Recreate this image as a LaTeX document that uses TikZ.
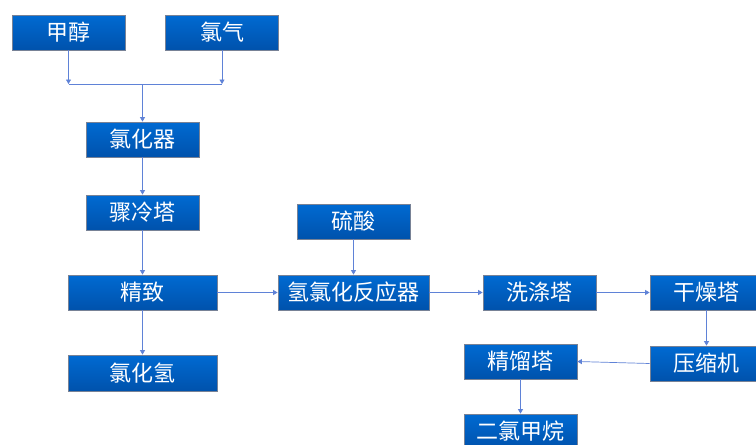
\documentclass[tikz,border=0pt]{standalone}
\usepackage{fontspec}
\newfontfamily\cjk{Noto Sans CJK SC}
\usetikzlibrary{arrows.meta}
\definecolor{boxtop}{RGB}{0,106,210}
\definecolor{boxbot}{RGB}{0,82,172}
\definecolor{boxedge}{RGB}{120,130,150}
\definecolor{conn}{RGB}{95,130,215}
\tikzset{
  box/.style={draw=boxedge, line width=0.8pt, top color=boxtop, bottom color=boxbot,
    minimum width=113pt, minimum height=35pt, inner sep=0pt, text=white,
    font=\cjk\fontsize{22}{24}\selectfont},
  conline/.style={draw=conn, line width=0.7pt},
  conarrow/.style={conline, -{Triangle[width=5pt,length=4.5pt]}}
}
\begin{document}
\begin{tikzpicture}[x=1pt,y=-1pt]
\useasboundingbox (0,0) rectangle (756,445);
\clip (0,0) rectangle (756,445);
\fill[white] (0,0) rectangle (756,445);
\node[box] (jc) at (68.5,32.5) {甲醇};
\node[box] (lq) at (222,32.5) {氯气};
\node[box] (lhq) at (142.5,139.5) {氯化器};
\node[box] (zlt) at (142.5,212.5) {骤冷塔};
\node[box, minimum width=149pt] (jz) at (142.5,292.5) {精致};
\node[box, minimum width=149pt, minimum height=36pt] (lhh) at (142.5,373) {氯化氢};
\node[box] (ls) at (353.5,221.5) {硫酸};
\node[box, minimum width=151pt] (fyq) at (353.5,292.5) {氢氯化反应器};
\node[box] (xdt) at (539.5,292.5) {洗涤塔};
\node[box] (gzt) at (706.5,292.5) {干燥塔};
\node[box] (ysj) at (706.5,363.5) {压缩机};
\node[box] (jlt) at (520.5,361.5) {精馏塔};
\node[box] (elj) at (520.5,431.5) {二氯甲烷};
\coordinate (j1) at (68.5,84);
\coordinate (j2) at (222,84);
\coordinate (jm) at (142.5,84);
\draw[conarrow] (jc.south) -- (j1);
\draw[conarrow] (lq.south) -- (j2);
\draw[conline] (j1) -- (j2);
\draw[conarrow] (jm) -- (lhq.north);
\draw[conarrow] (lhq.south) -- (zlt.north);
\draw[conarrow] (zlt.south) -- (jz.north);
\draw[conarrow] (jz.south) -- (lhh.north);
\draw[conarrow] (jz.east) -- (fyq.west);
\draw[conarrow] (ls.south) -- (fyq.north);
\draw[conarrow] (fyq.east) -- (xdt.west);
\draw[conarrow] (xdt.east) -- (gzt.west);
\draw[conarrow] (gzt.south) -- (ysj.north);
\draw[conarrow] (ysj.west) -- (jlt.east);
\draw[conarrow] (jlt.south) -- (elj.north);
\end{tikzpicture}
\end{document}
